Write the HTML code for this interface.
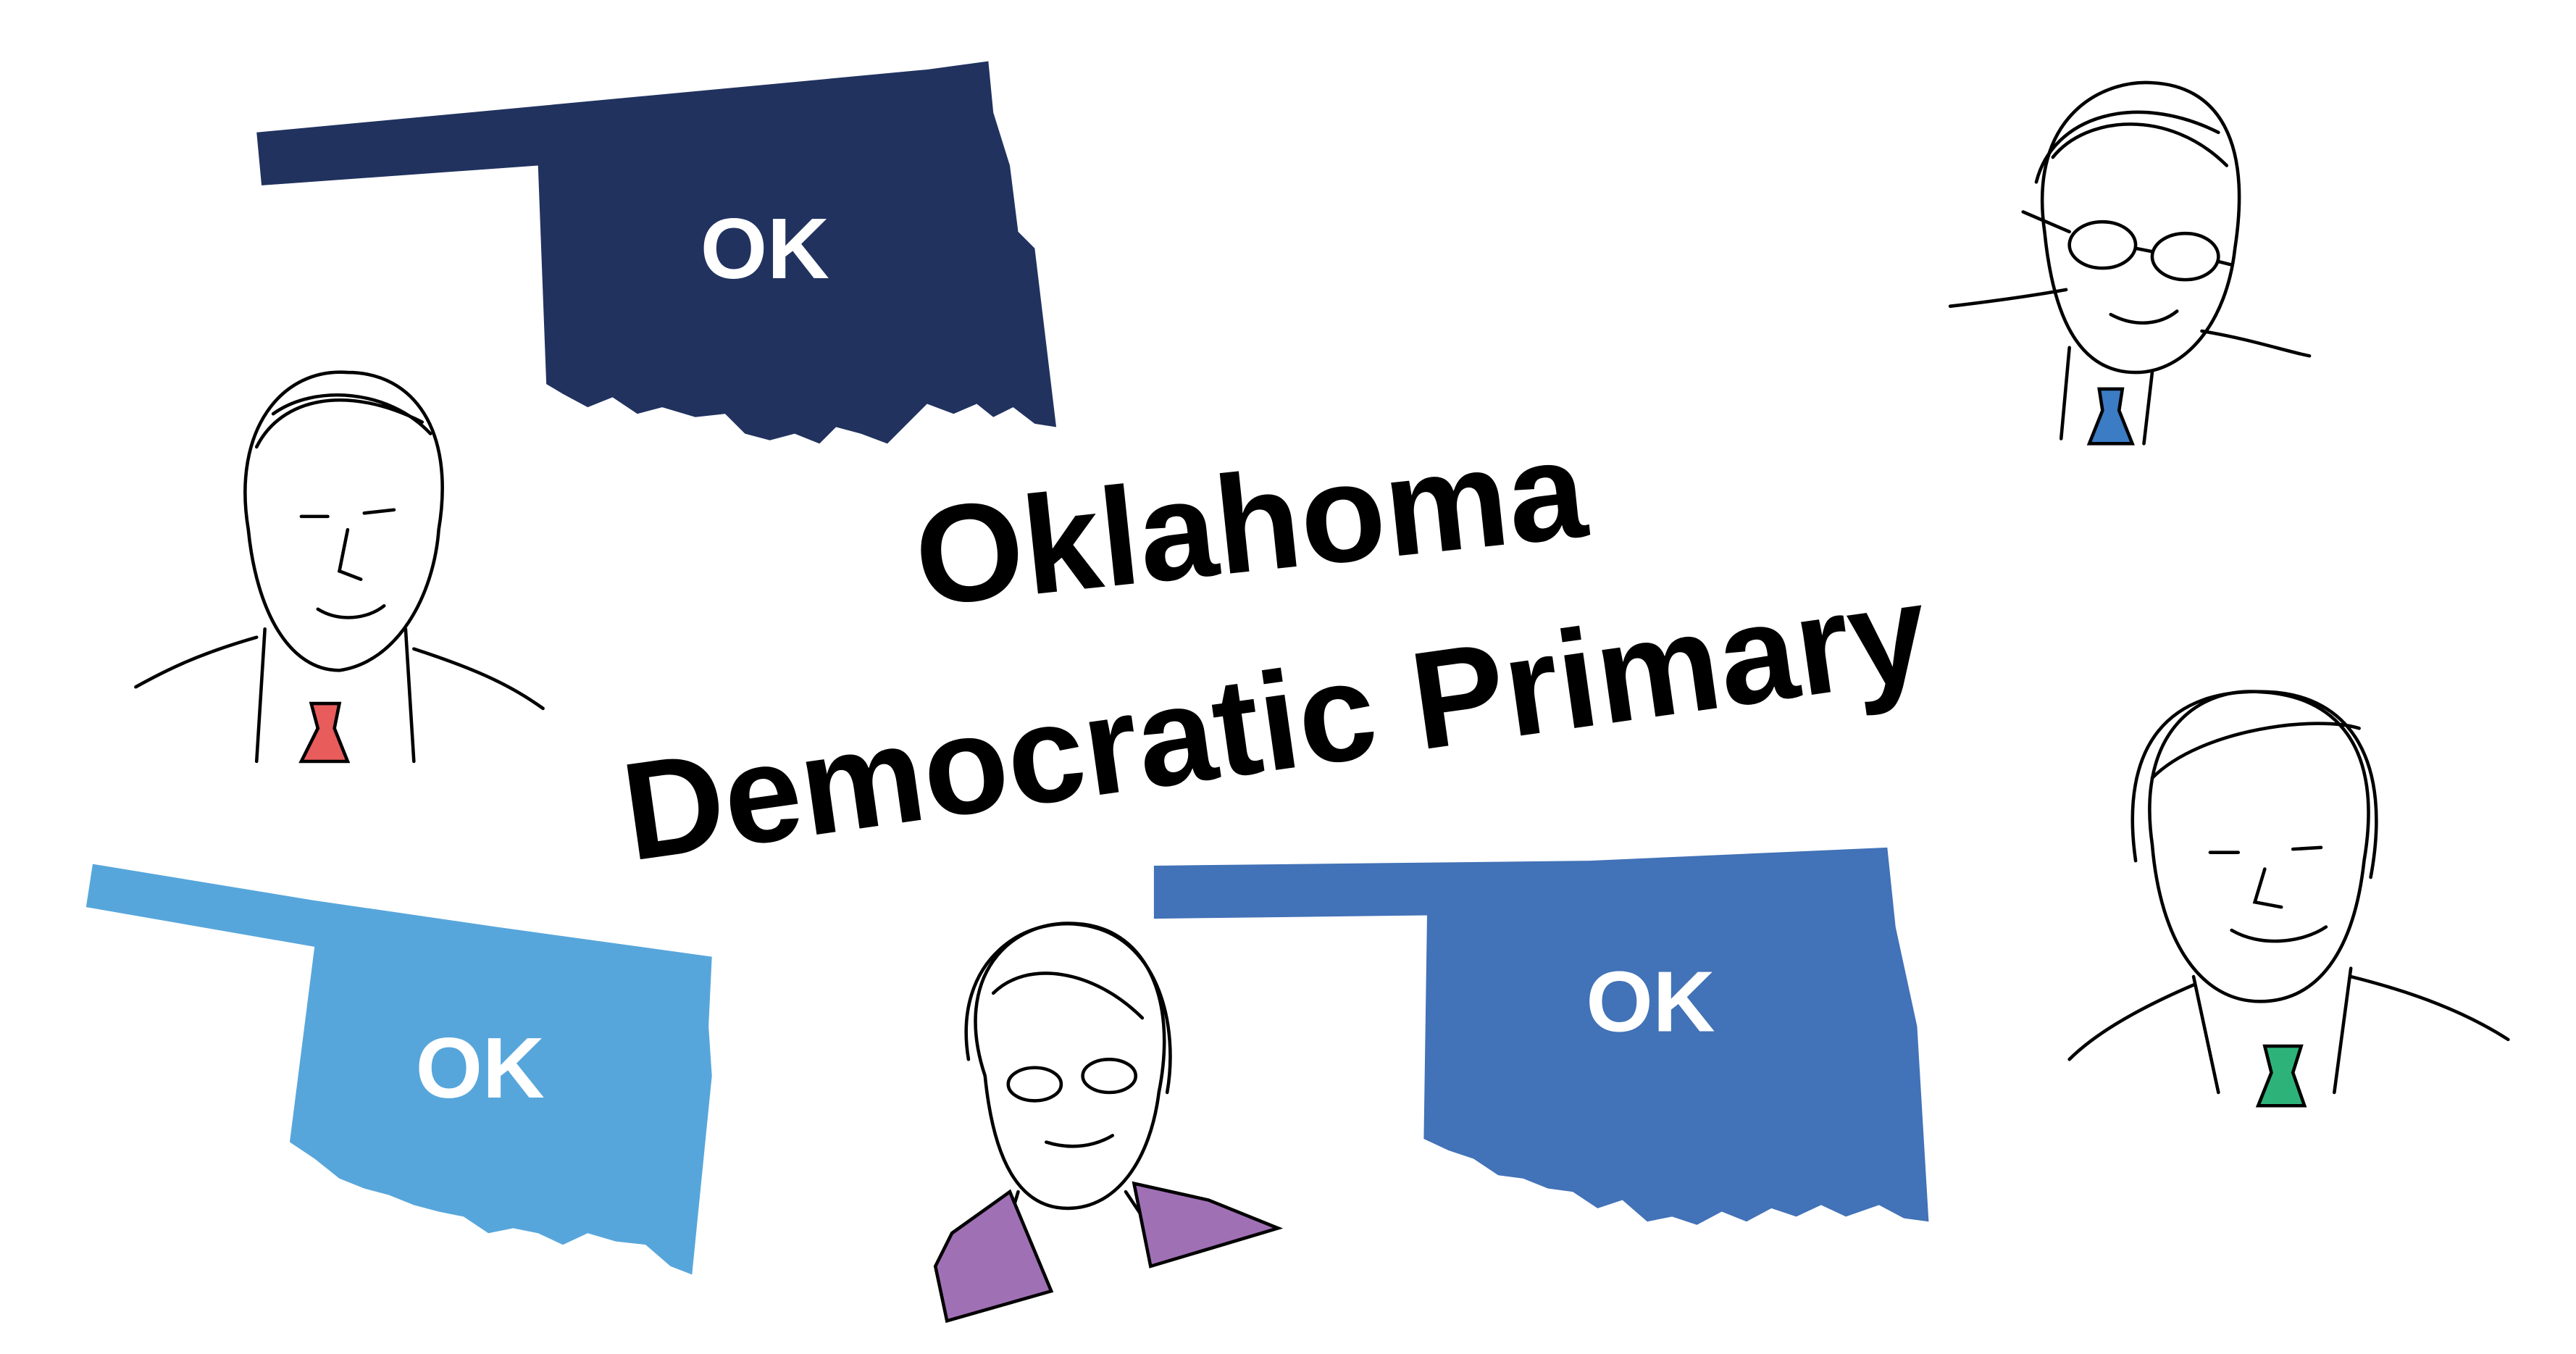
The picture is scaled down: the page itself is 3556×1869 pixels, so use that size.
<!DOCTYPE html>
<html><head><meta charset="utf-8"><style>
html,body{margin:0;padding:0;background:#fff;}
svg{display:block;}
text{font-family:"Liberation Sans",sans-serif;font-weight:bold;}
</style></head><body>
<svg width="3556" height="1869" viewBox="0 0 1556 818" preserveAspectRatio="none" xmlns="http://www.w3.org/2000/svg">
<rect width="1556" height="818" fill="#fff"/>
<!-- Navy Oklahoma -->
<g>
<polygon fill="#21325f" points="155,80 560,42 597,37 600,68 610,100 615,140 625,150 638,258 625,256 612,246 600,252 590,244 576,250 560,244 548,256 536,268 520,262 505,258 495,268 480,262 465,266 450,262 438,250 420,252 400,246 385,250 370,240 355,246 340,238 330,232 325,100 158,112"/>
<text x="462" y="168" font-size="52" fill="#fff" text-anchor="middle">OK</text>
</g>
<!-- Light blue -->
<g>
<polygon fill="#57a6db" points="56,522 190,544 300,560 430,578 428,620 430,650 418,770 405,765 390,752 372,750 355,745 340,752 325,745 310,742 295,745 280,735 265,732 250,728 235,722 220,718 205,712 190,700 175,690 190,572 52,548"/>
<text x="290" y="663" font-size="52" fill="#fff" text-anchor="middle">OK</text>
</g>
<!-- Medium blue -->
<g>
<polygon fill="#4272b7" points="697,523 960,520 1140,512 1145,560 1158,620 1165,738 1150,736 1135,728 1115,735 1100,728 1085,735 1070,730 1055,738 1040,732 1025,740 1010,735 995,738 980,725 965,730 950,720 935,718 920,712 905,710 890,700 875,695 860,688 862,553 697,555"/>
<text x="997" y="623" font-size="52" fill="#fff" text-anchor="middle">OK</text>
</g>
<!-- Title -->
<g>
<text x="755" y="345" font-size="84" fill="#000" text-anchor="middle" transform="rotate(-6 755 315)">Oklahoma</text>
<text x="770" y="465" font-size="84" fill="#000" text-anchor="middle" transform="rotate(-8 770 435)">Democratic Primary</text>
</g>
<g fill="none" stroke="#000" stroke-width="2" stroke-linecap="round">
<!-- Face 1 -->
<g>
<path d="M150,320 C140,260 170,222 210,225 C250,225 275,260 265,320 C262,360 240,400 205,405 C175,405 155,370 150,320 Z"/>
<path d="M155,270 C170,240 210,232 255,255 M165,250 C190,232 235,235 260,262"/>
<path d="M182,312 L198,312 M220,310 L238,308 M210,320 L205,345 L218,350 M192,368 C205,376 222,374 232,366"/>
<path d="M160,380 L155,460 M245,380 L250,460 M155,385 C120,395 100,405 82,415 M250,392 C290,405 310,415 328,428"/>
</g>
<polygon fill="#e85c5c" points="188,425 205,425 202,440 210,460 182,460 192,440"/>
<!-- Face 2 -->
<g>
<path d="M1235,140 C1225,70 1270,48 1300,50 C1340,52 1360,85 1350,150 C1345,195 1320,225 1290,225 C1255,225 1240,190 1235,140 Z"/>
<path d="M1230,110 C1240,70 1290,55 1340,80 M1240,95 C1260,70 1310,65 1345,100"/>
<ellipse cx="1270" cy="148" rx="20" ry="14"/><ellipse cx="1320" cy="155" rx="20" ry="14"/>
<path d="M1222,128 L1250,140 M1290,150 L1300,152 M1340,158 L1348,160 M1275,190 C1290,198 1305,196 1315,188"/>
<path d="M1250,210 L1245,265 M1300,225 L1295,268 M1248,175 C1220,180 1195,183 1178,185 M1330,200 C1360,205 1380,212 1395,215"/>
</g>
<polygon fill="#3b7cc4" points="1268,235 1282,235 1280,248 1288,268 1262,268 1270,248"/>
<!-- Face 3 Warren -->
<g>
<path d="M595,650 C575,590 610,555 650,558 C690,560 712,600 700,660 C695,700 675,730 645,730 C615,730 600,700 595,650 Z"/>
<path d="M585,640 C575,580 620,550 660,560 C700,570 712,620 705,660 M600,600 C620,580 660,585 690,615"/>
<ellipse cx="625" cy="655" rx="16" ry="10"/><ellipse cx="670" cy="650" rx="16" ry="10"/>
<path d="M632,690 C648,695 662,692 672,686"/>
<path d="M615,720 L612,730 M680,720 L690,735"/>
</g>
<polygon fill="#a070b5" stroke="#000" points="565,765 575,745 610,720 635,780 572,798"/>
<polygon fill="#a070b5" stroke="#000" points="685,715 730,725 772,742 695,765"/>
<!-- Face 4 Biden -->
<g>
<path d="M1300,510 C1290,440 1330,415 1365,418 C1410,420 1440,450 1428,520 C1422,575 1400,605 1365,605 C1330,605 1305,570 1300,510 Z"/>
<path d="M1290,520 C1280,450 1310,415 1370,418 C1420,420 1445,460 1432,530 M1300,470 C1330,440 1400,432 1425,440"/>
<path d="M1335,515 L1352,515 M1385,513 L1402,512 M1368,525 L1362,545 L1378,548 M1348,562 C1365,572 1390,570 1405,560"/>
<path d="M1325,590 L1340,660 M1420,585 L1410,660 M1325,595 C1290,610 1265,625 1250,640 M1420,590 C1460,600 1490,612 1515,628"/>
</g>
<polygon fill="#2db37a" points="1368,632 1390,632 1385,648 1392,668 1364,668 1372,648"/>
</g>
</svg>
</body></html>
